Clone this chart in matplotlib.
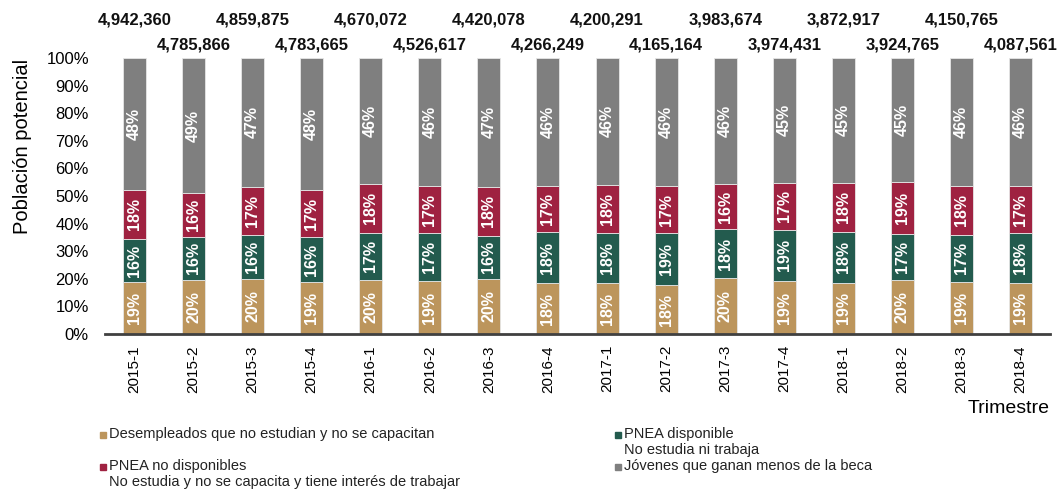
import numpy as np
import matplotlib.pyplot as plt
from matplotlib.patches import Rectangle

# Datos
trimestres = ["2015-1", "2015-2", "2015-3", "2015-4", "2016-1", "2016-2", "2016-3", "2016-4",
              "2017-1", "2017-2", "2017-3", "2017-4", "2018-1", "2018-2", "2018-3", "2018-4"]
totales = [4942360, 4785866, 4859875, 4783665, 4670072, 4526617, 4420078, 4266249,
           4200291, 4165164, 3983674, 3974431, 3872917, 3924765, 4150765, 4087561]
desempleados = [18.7, 19.7, 20.1, 18.9, 19.6, 19.2, 20.0, 18.4, 18.3, 17.6, 20.2, 19.2, 18.6, 19.5, 18.9, 18.6]
pnea_disp = [15.8, 15.6, 15.8, 16.2, 17.0, 17.4, 15.6, 18.4, 18.3, 19.0, 17.8, 18.6, 18.4, 16.9, 17.1, 18.0]
pnea_no_disp = [17.8, 15.7, 17.4, 17.1, 17.8, 17.0, 17.8, 16.9, 17.5, 17.0, 16.4, 17.0, 17.8, 18.8, 17.6, 17.0]
jovenes = [47.7, 49.0, 46.7, 47.8, 45.6, 46.4, 46.6, 46.3, 45.9, 46.4, 45.6, 45.2, 45.2, 44.8, 46.4, 46.4]

series = [
    (desempleados, "#BC955C", "Desempleados que no estudian y no se capacitan"),
    (pnea_disp, "#235B4E", "PNEA disponible\nNo estudia ni trabaja"),
    (pnea_no_disp, "#9F2241", "PNEA no disponibles\nNo estudia y no se capacita y tiene interés de trabajar"),
    (jovenes, "#7F7F7F", "Jóvenes que ganan menos de la beca"),
]

plt.rcParams["font.family"] = ["Liberation Sans", "DejaVu Sans"]

fig = plt.figure(figsize=(10.6, 4.93), dpi=100)
ax = fig.add_axes([0.099, 0.3225, 0.8916, 0.5599])

x = np.arange(len(trimestres))
base = np.zeros(len(trimestres))
for vals, color, label in series:
    vals = np.array(vals)
    ax.bar(x, vals, bottom=base, width=0.39, color=color, edgecolor="#e6e6e6", linewidth=0.6)
    for xi, b, v in zip(x, base, vals):
        ax.text(xi, b + v / 2, f"{v:.0f}%", rotation=90, ha="center", va="center",
                color="white", fontsize=11.5, fontweight="bold")
    base = base + vals

# Totales arriba de las barras (alternados)
for i, t in enumerate(totales):
    y = 113.8 if i % 2 == 0 else 104.7
    ax.text(i, y, f"{t:,}", ha="center", va="center", fontsize=12,
            fontweight="bold", color="#111111", clip_on=False)

ax.set_xlim(-0.5, len(trimestres) - 0.5)
ax.set_ylim(0, 100)
ax.set_yticks(np.arange(0, 101, 10))
ax.set_yticklabels([f"{v}%" for v in range(0, 101, 10)], fontsize=12)
ax.set_xticks(x)
ax.set_xticklabels(trimestres, rotation=90, fontsize=11)
ax.tick_params(axis="y", length=0, pad=11.5)
ax.tick_params(axis="x", length=0, pad=8)
for s in ["top", "right", "left"]:
    ax.spines[s].set_visible(False)
ax.spines["bottom"].set_color("#404040")
ax.spines["bottom"].set_linewidth(2)

ax.set_ylabel("Población potencial", fontsize=14.5)
ax.yaxis.set_label_coords(-0.077, 0.68)
fig.text(0.9906, 0.171, "Trimestre", ha="right", va="center", fontsize=14)

# Leyenda manual
posiciones = [(0.0945, 1 - 435 / 493), (0.580, 1 - 435 / 493),
              (0.0945, 1 - 467 / 493), (0.580, 1 - 467 / 493)]
for (vals, color, label), (lx, ly) in zip(series, posiciones):
    fig.patches.append(Rectangle((lx, ly - 0.006), 0.0057, 0.0122, transform=fig.transFigure,
                                 color=color, figure=fig))
    fig.text(lx + 0.0085, ly + 0.0165, label, ha="left", va="top", fontsize=10.5,
             color="#222222", linespacing=1.15)

fig.savefig("out.png", dpi=100)
